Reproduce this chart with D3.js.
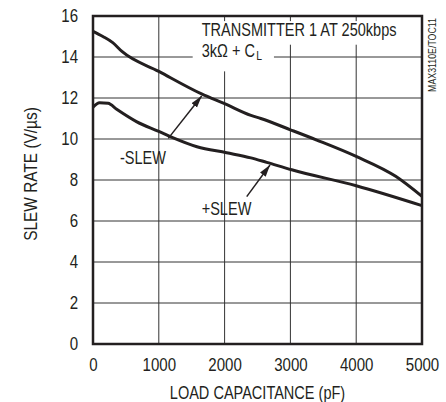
<!DOCTYPE html>
<html>
<head>
<meta charset="utf-8">
<script src="https://cdn.jsdelivr.net/npm/d3@7"></script>
<style>
  body { margin: 0; background: #fff; }
  text { font-family: "Liberation Sans", Arial, sans-serif; fill: #231f20; }
</style>
</head>
<body>
<svg id="chart"></svg>
<script>
// load capacitance (pF) vs slew rate (V/us)
const minusSlew = [
  [0, 15.25], [150, 15.0], [300, 14.7], [440, 14.27], [1000, 13.3],
  [1650, 12.2], [2000, 11.72], [2400, 11.15], [2550, 11.0], [3000, 10.45],
  [3400, 9.95], [4000, 9.15], [4600, 8.18], [5000, 7.2]
]
const plusSlew = [
  [0, 11.55], [100, 11.77], [230, 11.74], [360, 11.45], [660, 10.85],
  [1000, 10.37], [1220, 10.05], [1580, 9.62], [2030, 9.33], [2400, 9.08],
  [2640, 8.86], [3020, 8.5], [4000, 7.72], [5000, 6.75]
]
const xTicks = [0, 1000, 2000, 3000, 4000, 5000]
const yTicks = [0, 2, 4, 6, 8, 10, 12, 14, 16]

// callout labels and arrows, in data units
const labels = [
  {text: "-SLEW", x: 410, y: 8.78, arrow: [[1144, 10.03], [1652, 12.1]]},
  {text: "+SLEW", x: 1652, y: 6.29, arrow: [[2336, 7.19], [2690, 8.73]]}
]
const noteLines = ["TRANSMITTER 1 AT 250kbps", "3kΩ + C", "L"]

const width = 446, height = 402
const margin = {top: 16, right: 24, bottom: 58, left: 93}
const w = width - margin.left - margin.right
const h = height - margin.top - margin.bottom
const squeeze = 0.83   // the original type is a narrow face

// narrow the text by squeezing glyphs
function narrow(sel, k) {
  sel.each(function() {
    const len = this.getComputedTextLength()
    d3.select(this).attr("textLength", len * (k || squeeze)).attr("lengthAdjust", "spacingAndGlyphs")
  })
}

const svg = d3.select("#chart")
  .attr("width", width)
  .attr("height", height)

const defs = svg.append("defs")
defs.append("marker")
  .attr("id", "head")
  .attr("viewBox", "0 0 12 8")
  .attr("refX", 12).attr("refY", 4)
  .attr("markerWidth", 12).attr("markerHeight", 8)
  .attr("markerUnits", "userSpaceOnUse")
  .attr("orient", "auto")
  .append("path")
  .attr("d", "M0,0.5 L12,4 L0,7.5 Z")
  .attr("fill", "#231f20")

const g = svg.append("g")
  .attr("transform", `translate(${margin.left},${margin.top})`)

const xScale = d3.scaleLinear().domain([0, 5000]).range([0, w])
const yScale = d3.scaleLinear().domain([0, 16]).range([h, 0])

// grid
g.append("g")
  .selectAll("line")
  .data(xTicks)
  .join("line")
  .attr("x1", d => xScale(d)).attr("x2", d => xScale(d))
  .attr("y1", 0).attr("y2", h)
  .attr("stroke", "#333").attr("stroke-width", 1)

g.append("g")
  .selectAll("line")
  .data(yTicks)
  .join("line")
  .attr("x1", 0).attr("x2", w)
  .attr("y1", d => yScale(d)).attr("y2", d => yScale(d))
  .attr("stroke", "#333").attr("stroke-width", 1)

// note box hides grid behind the text
const note = g.append("g")
note.append("rect")
  .attr("x", xScale(1600)).attr("y", yScale(15.75))
  .attr("width", xScale(4570) - xScale(1600)).attr("height", yScale(14.6) - yScale(15.75))
  .attr("fill", "#fff")
note.append("rect")
  .attr("x", xScale(1515)).attr("y", yScale(14.6))
  .attr("width", xScale(2750) - xScale(1515)).attr("height", yScale(13.3) - yScale(14.6))
  .attr("fill", "#fff")

note.append("text")
  .attr("x", xScale(1652)).attr("y", yScale(15.02))
  .attr("font-size", 17.5)
  .text(noteLines[0])
  .call(narrow)

// second line squeezed by a transform so C and its subscript stay apart
const l2g = note.append("g")
  .attr("transform", `translate(${xScale(1652)},${yScale(14.01)}) scale(${squeeze},1)`)
const l2 = l2g.append("text")
  .attr("font-size", 17.5)
  .text(noteLines[1])
l2g.append("text")
  .attr("x", l2.node().getComputedTextLength() + 1.5)
  .attr("y", 3)
  .attr("font-size", 12.5)
  .text(noteLines[2])

// curves
const line = d3.line()
  .x(d => xScale(d[0]))
  .y(d => yScale(d[1]))
  .curve(d3.curveMonotoneX)

g.selectAll("path.curve")
  .data([minusSlew, plusSlew])
  .join("path")
  .attr("class", "curve")
  .attr("fill", "none")
  .attr("stroke", "#231f20")
  .attr("stroke-width", 3)
  .attr("d", line)

// callouts
labels.forEach(l => {
  g.append("text")
    .attr("x", xScale(l.x)).attr("y", yScale(l.y))
    .attr("font-size", 17.5)
    .text(l.text)
    .call(narrow)
  g.append("line")
    .attr("x1", xScale(l.arrow[0][0])).attr("y1", yScale(l.arrow[0][1]))
    .attr("x2", xScale(l.arrow[1][0])).attr("y2", yScale(l.arrow[1][1]))
    .attr("stroke", "#231f20").attr("stroke-width", 1.5)
    .attr("marker-end", "url(#head)")
})

// frame
g.append("rect")
  .attr("x", 0).attr("y", 0)
  .attr("width", w).attr("height", h)
  .attr("fill", "none")
  .attr("stroke", "#231f20")
  .attr("stroke-width", 2.5)

// axes
const xAxis = g.append("g")
  .attr("transform", `translate(0,${h})`)
  .call(d3.axisBottom(xScale).tickValues(xTicks).tickSize(0).tickPadding(15).tickFormat(d3.format("d")))
xAxis.select(".domain").remove()
xAxis.selectAll("text").attr("font-size", 17.5).attr("font-family", null).attr("fill", "#231f20").call(narrow, 0.86)

const yAxis = g.append("g")
  .call(d3.axisLeft(yScale).tickValues(yTicks).tickSize(0).tickPadding(15))
yAxis.select(".domain").remove()
yAxis.selectAll("text").attr("font-size", 17.5).attr("font-family", null).attr("fill", "#231f20").call(narrow, 0.86)

svg.append("text")
  .attr("x", margin.left + w / 2)
  .attr("y", 399)
  .attr("text-anchor", "middle")
  .attr("font-size", 17.5)
  .text("LOAD CAPACITANCE (pF)")
  .call(narrow)

svg.append("text")
  .attr("transform", "translate(37,174) rotate(-90)")
  .attr("text-anchor", "middle")
  .attr("font-size", 17.5)
  .text("SLEW RATE (V/µs)")
  .call(narrow, 0.88)

svg.append("text")
  .attr("transform", "translate(436,55) rotate(-90)")
  .attr("text-anchor", "middle")
  .attr("font-size", 10)
  .text("MAX3110E/TOC11")
  .call(narrow, 0.88)
</script>
</body>
</html>
